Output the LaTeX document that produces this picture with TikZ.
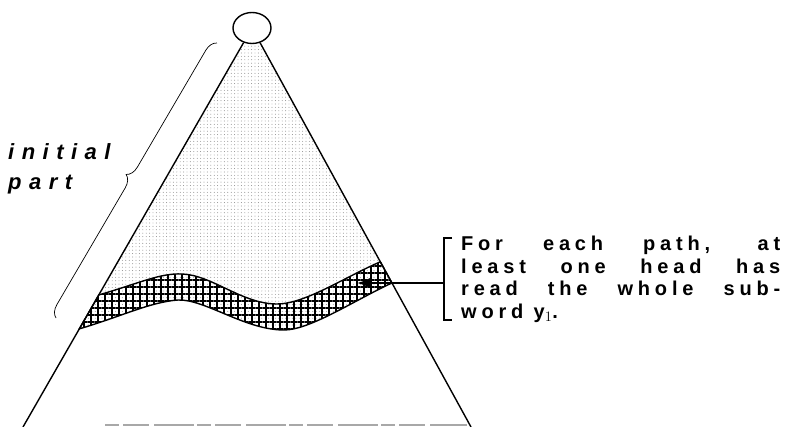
\documentclass[tikz,border=0pt]{standalone}
\usepackage[no-math]{fontspec}
\setmainfont{Liberation Sans}
\newfontfamily\tagfamily[LetterSpace=34]{Liberation Sans}
\newfontfamily\notefamily[LetterSpace=24]{Liberation Sans}
\usetikzlibrary{positioning,arrows.meta,calc,shapes.geometric,patterns.meta,decorations.pathreplacing}
\definecolor{ink}{HTML}{000000}
\definecolor{stipple}{HTML}{7A7A7A}
\definecolor{grey}{HTML}{A8A8A8}
\newcommand\fullline[1]{\makebox[319pt][s]{#1}}
\tikzset{
  edge/.style={draw=ink,line width=1.4pt},
  root/.style={ellipse,draw=ink,fill=white,line width=1.4pt,minimum width=38pt,minimum height=31pt,inner sep=0},
  stippled/.style={pattern={Dots[radius=0.45pt,distance=3.4pt]},pattern color=stipple},
  hatched/.style={pattern={Hatch[distance=7pt,line width=1.3pt]},pattern color=ink},
  pointer/.style={-{Latex[length=13pt,width=10pt]},draw=ink,line width=1.6pt},
  bracebar/.style={decorate,decoration={brace,amplitude=12pt},draw=ink,line width=0.7pt},
  floor/.style={draw=grey,line width=1.2pt,dash pattern=on 14pt off 4pt on 26pt off 5pt on 40pt off 3pt},
  noteline/.style={font=\notefamily\fontsize{20}{24}\selectfont\bfseries,inner sep=0,anchor=base west},
  tag/.style={font=\tagfamily\fontsize{22}{30}\selectfont\bfseries\itshape,inner sep=0,align=left}}

\begin{document}
\begin{tikzpicture}[x=1pt,y=-1pt]
  \path[use as bounding box,fill=white] (0,0) rectangle (797,427);
  \coordinate (apex) at (252,28);
  \coordinate (bl) at (23,427);
  \coordinate (br) at (471,427);
  \coordinate (tl) at ($(apex)!0.669!(bl)$);
  \coordinate (tr) at ($(apex)!0.586!(br)$);
  \coordinate (ul) at ($(apex)!0.754!(bl)$);
  \coordinate (ur) at ($(apex)!0.639!(br)$);
  \fill[stippled] (apex) -- (tl) .. controls (140,283) and (160,273) .. (182,274) .. controls (212,275) and (242,304) .. (277,304) .. controls (305,304) and (345,277) .. (tr) -- cycle;
  \draw[edge,preaction={stippled},hatched] (tl) .. controls (140,283) and (160,273) .. (182,274) .. controls (212,275) and (242,304) .. (277,304) .. controls (305,304) and (345,277) .. (tr)
    -- (ur) .. controls (355,300) and (310,330) .. (284,330) .. controls (245,330) and (205,299) .. (178,300) .. controls (150,302) and (120,317) .. (ul) -- cycle;
  \node[root] (rootnode) at (apex) {};
  \draw[edge] (rootnode) -- (bl);
  \draw[edge] (rootnode) -- (br);
  \draw[floor] (105,425) -- (467,425);
  \coordinate (bb) at (56,318);
  \coordinate (bt) at (217,43);
  \draw[bracebar] (bb) -- (bt);
  \node[tag,anchor=base west] (initial) at (8,190) {initial\\part};
  \coordinate (kt) at (452,238);
  \coordinate (kb) at (452,320);
  \coordinate (hook) at (444,283);
  \coordinate (tip) at (357,283);
  \draw[edge] (kt) -- ++(-8,0) |- (kb);
  \draw[pointer] (hook) -- (tip);
  \node[noteline] (line1) at (461,251) {\fullline{For each path, at}};
  \node[noteline] (line2) at (461,273.5) {\fullline{least one head has}};
  \node[noteline] (line3) at (461,296) {\fullline{read the whole sub-}};
  \node[noteline] (line4) at (461,318.5) {word y$_{1}$.};
\end{tikzpicture}
\end{document}
